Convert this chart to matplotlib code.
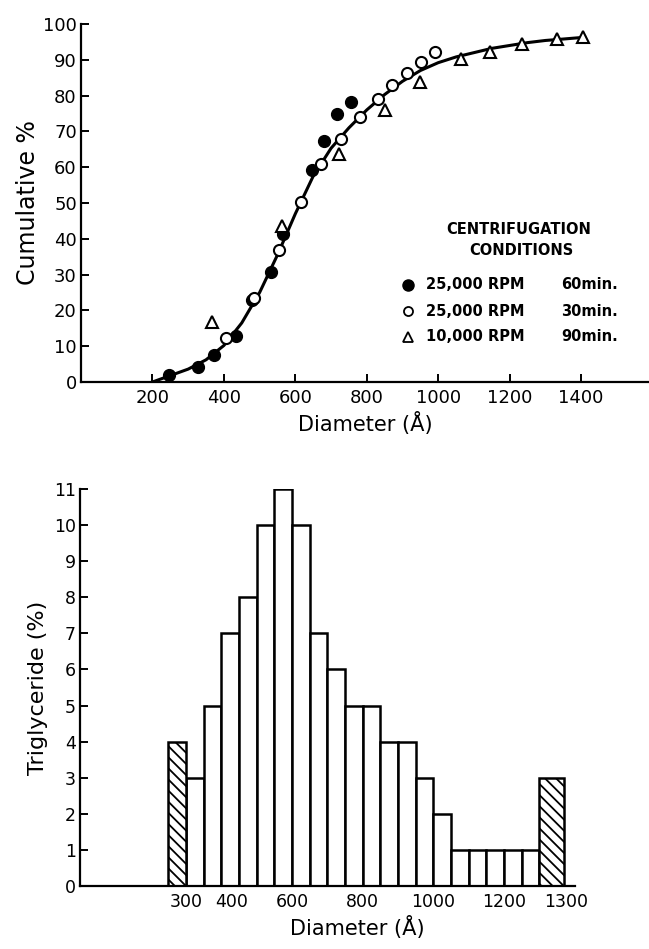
import matplotlib
matplotlib.use("Agg")
import matplotlib.pyplot as plt
import matplotlib.transforms as mtrans

plt.rcParams['font.family'] = ['DejaVu Sans']
plt.rcParams['hatch.linewidth'] = 1.3

# ---------------- top chart data (cumulative %) ----------------
curve_diam = [200, 250, 300, 350, 400, 450, 500, 550, 600, 650, 700, 750, 800,
              850, 900, 950, 1000, 1050, 1100, 1150, 1200, 1250, 1300, 1350, 1410]
curve_pct = [0, 1.8, 3.6, 6.2, 10.2, 16.5, 25, 35.5, 47, 57.5, 65.3, 71, 76,
             80.3, 84, 87, 89.2, 90.8, 92, 93.2, 94, 94.8, 95.4, 95.8, 96.3]

diam_60 = [246, 327, 372, 434, 479, 533, 566, 648, 681, 716, 755]
pct_60 = [2.0, 4.3, 7.5, 12.9, 22.8, 30.7, 41.3, 59.3, 67.2, 74.8, 78.2]

diam_30 = [405, 485, 553, 616, 673, 728, 781, 831, 870, 913, 952, 992]
pct_30 = [12.4, 23.4, 37, 50.2, 61, 68, 74.1, 79, 83, 86.2, 89.3, 92.1]

diam_90 = [366, 564, 722, 850, 950, 1064, 1144, 1234, 1333, 1405]
pct_90 = [16.7, 43.5, 63.6, 76, 83.9, 90.1, 92.3, 94.4, 95.7, 96.5]

legend_title = ["CENTRIFUGATION", "CONDITIONS"]
legend_speed = ["25,000 RPM", "25,000 RPM", "10,000 RPM"]
legend_time = ["60min.", "30min.", "90min."]

top_xticks = [200, 400, 600, 800, 1000, 1200, 1400]
top_yticks = [0, 10, 20, 30, 40, 50, 60, 70, 80, 90, 100]

# ---------------- bottom chart data (histogram) ----------------
bin_left = [300, 350, 400, 450, 500, 550, 600, 650, 700, 750, 800, 850, 900,
            950, 1000, 1050, 1100, 1150, 1200, 1250]
tg_pct = [3, 5, 7, 8, 10, 11, 10, 7, 6, 5, 5, 4, 4, 3, 2, 1, 1, 1, 1, 1]
below_300_pct = 4
above_1300_pct = 3

bot_xticks = [300, 400, 600, 800, 1000, 1200, 1300]
bot_xlabels = ["300", "400", "600", "800", "1000", "1200", "1300"]
bot_yticks = list(range(0, 12))

fig = plt.figure(figsize=(6.49, 9.49), dpi=100)

# ================= TOP =================
ax1 = fig.add_axes([81 / 649, 1 - 382 / 949, 568 / 649, 358 / 949])
ax1.plot(curve_diam, curve_pct, color='black', lw=2.2, zorder=2)
ax1.plot(diam_60, pct_60, 'o', ms=8.5, mfc='black', mec='black', zorder=3)
ax1.plot(diam_30, pct_30, 'o', ms=8, mfc='white', mec='black', mew=1.5, zorder=3)
ax1.plot(diam_90, pct_90, '^', ms=8, mfc='white', mec='black', mew=1.5, zorder=3)

ax1.set_xlim(0, 1590)
ax1.set_ylim(0, 100)
ax1.spines['top'].set_visible(False)
ax1.spines['right'].set_visible(False)
for s in ('left', 'bottom'):
    ax1.spines[s].set_linewidth(1.6)
ax1.set_xticks(top_xticks)
ax1.set_yticks(top_yticks)
ax1.tick_params(direction='in', length=6, width=1.4, labelsize=13)
ax1.tick_params(axis='x', pad=5)
ax1.tick_params(axis='y', pad=3)
ax1.set_ylabel("Cumulative %", fontsize=17, labelpad=2)
ax1.set_xlabel("Diameter (Å)", fontsize=15, labelpad=4)

# legend (drawn manually)
ax1.text(0.770, 0.425, legend_title[0], transform=ax1.transAxes, ha='center',
         va='center', fontsize=10.5, fontweight='bold')
ax1.text(0.775, 0.366, legend_title[1], transform=ax1.transAxes, ha='center',
         va='center', fontsize=10.5, fontweight='bold')
rows_y = [0.271, 0.198, 0.126]
styles = [dict(marker='o', ms=8, mfc='black', mec='black'),
          dict(marker='o', ms=6.5, mfc='white', mec='black', mew=1.3),
          dict(marker='^', ms=7.5, mfc='white', mec='black', mew=1.3)]
for yy, st, sp, tm in zip(rows_y, styles, legend_speed, legend_time):
    ax1.plot([0.576], [yy], transform=ax1.transAxes, linestyle='none', clip_on=False, **st)
    ax1.text(0.608, yy, sp, transform=ax1.transAxes, ha='left', va='center',
             fontsize=10.5, fontweight='bold')
    ax1.text(0.846, yy, tm, transform=ax1.transAxes, ha='left', va='center',
             fontsize=10.5, fontweight='bold')

# ================= BOTTOM =================
ax2 = fig.add_axes([79.8 / 649, 1 - 886 / 949, 495 / 649, 397 / 949])
ax2.bar(bin_left, tg_pct, width=50, align='edge', color='white',
        edgecolor='black', linewidth=1.8, zorder=2)
ax2.bar([250], [below_300_pct], width=50, align='edge', color='white',
        edgecolor='black', linewidth=1.8, hatch='\\\\\\', zorder=2)
ax2.bar([1300], [above_1300_pct], width=70, align='edge', color='white',
        edgecolor='black', linewidth=1.8, hatch='\\\\\\', zorder=2)

ax2.set_xlim(0, 1400)
ax2.set_ylim(0, 11)
ax2.spines['top'].set_visible(False)
ax2.spines['right'].set_visible(False)
for s in ('left', 'bottom'):
    ax2.spines[s].set_linewidth(1.6)
ax2.set_xticks(bot_xticks)
ax2.set_xticklabels(bot_xlabels)
ax2.set_yticks(bot_yticks)
ax2.tick_params(direction='in', length=6, width=1.4, labelsize=12.5)
ax2.tick_params(axis='x', pad=5)
ax2.tick_params(axis='y', pad=3)
ax2.set_ylabel("Triglyceride (%)", fontsize=16, labelpad=4)
ax2.set_xlabel("Diameter (Å)", fontsize=15, labelpad=2)
ax2.xaxis.set_label_coords(0.56, -0.075)

offsets = {"400": 10 / 100, "1300": 27 / 100}
for lab in ax2.get_xticklabels():
    t = lab.get_text()
    if t in offsets:
        lab.set_transform(lab.get_transform() +
                          mtrans.ScaledTranslation(offsets[t], 0, fig.dpi_scale_trans))

fig.savefig("out.png", dpi=100)
